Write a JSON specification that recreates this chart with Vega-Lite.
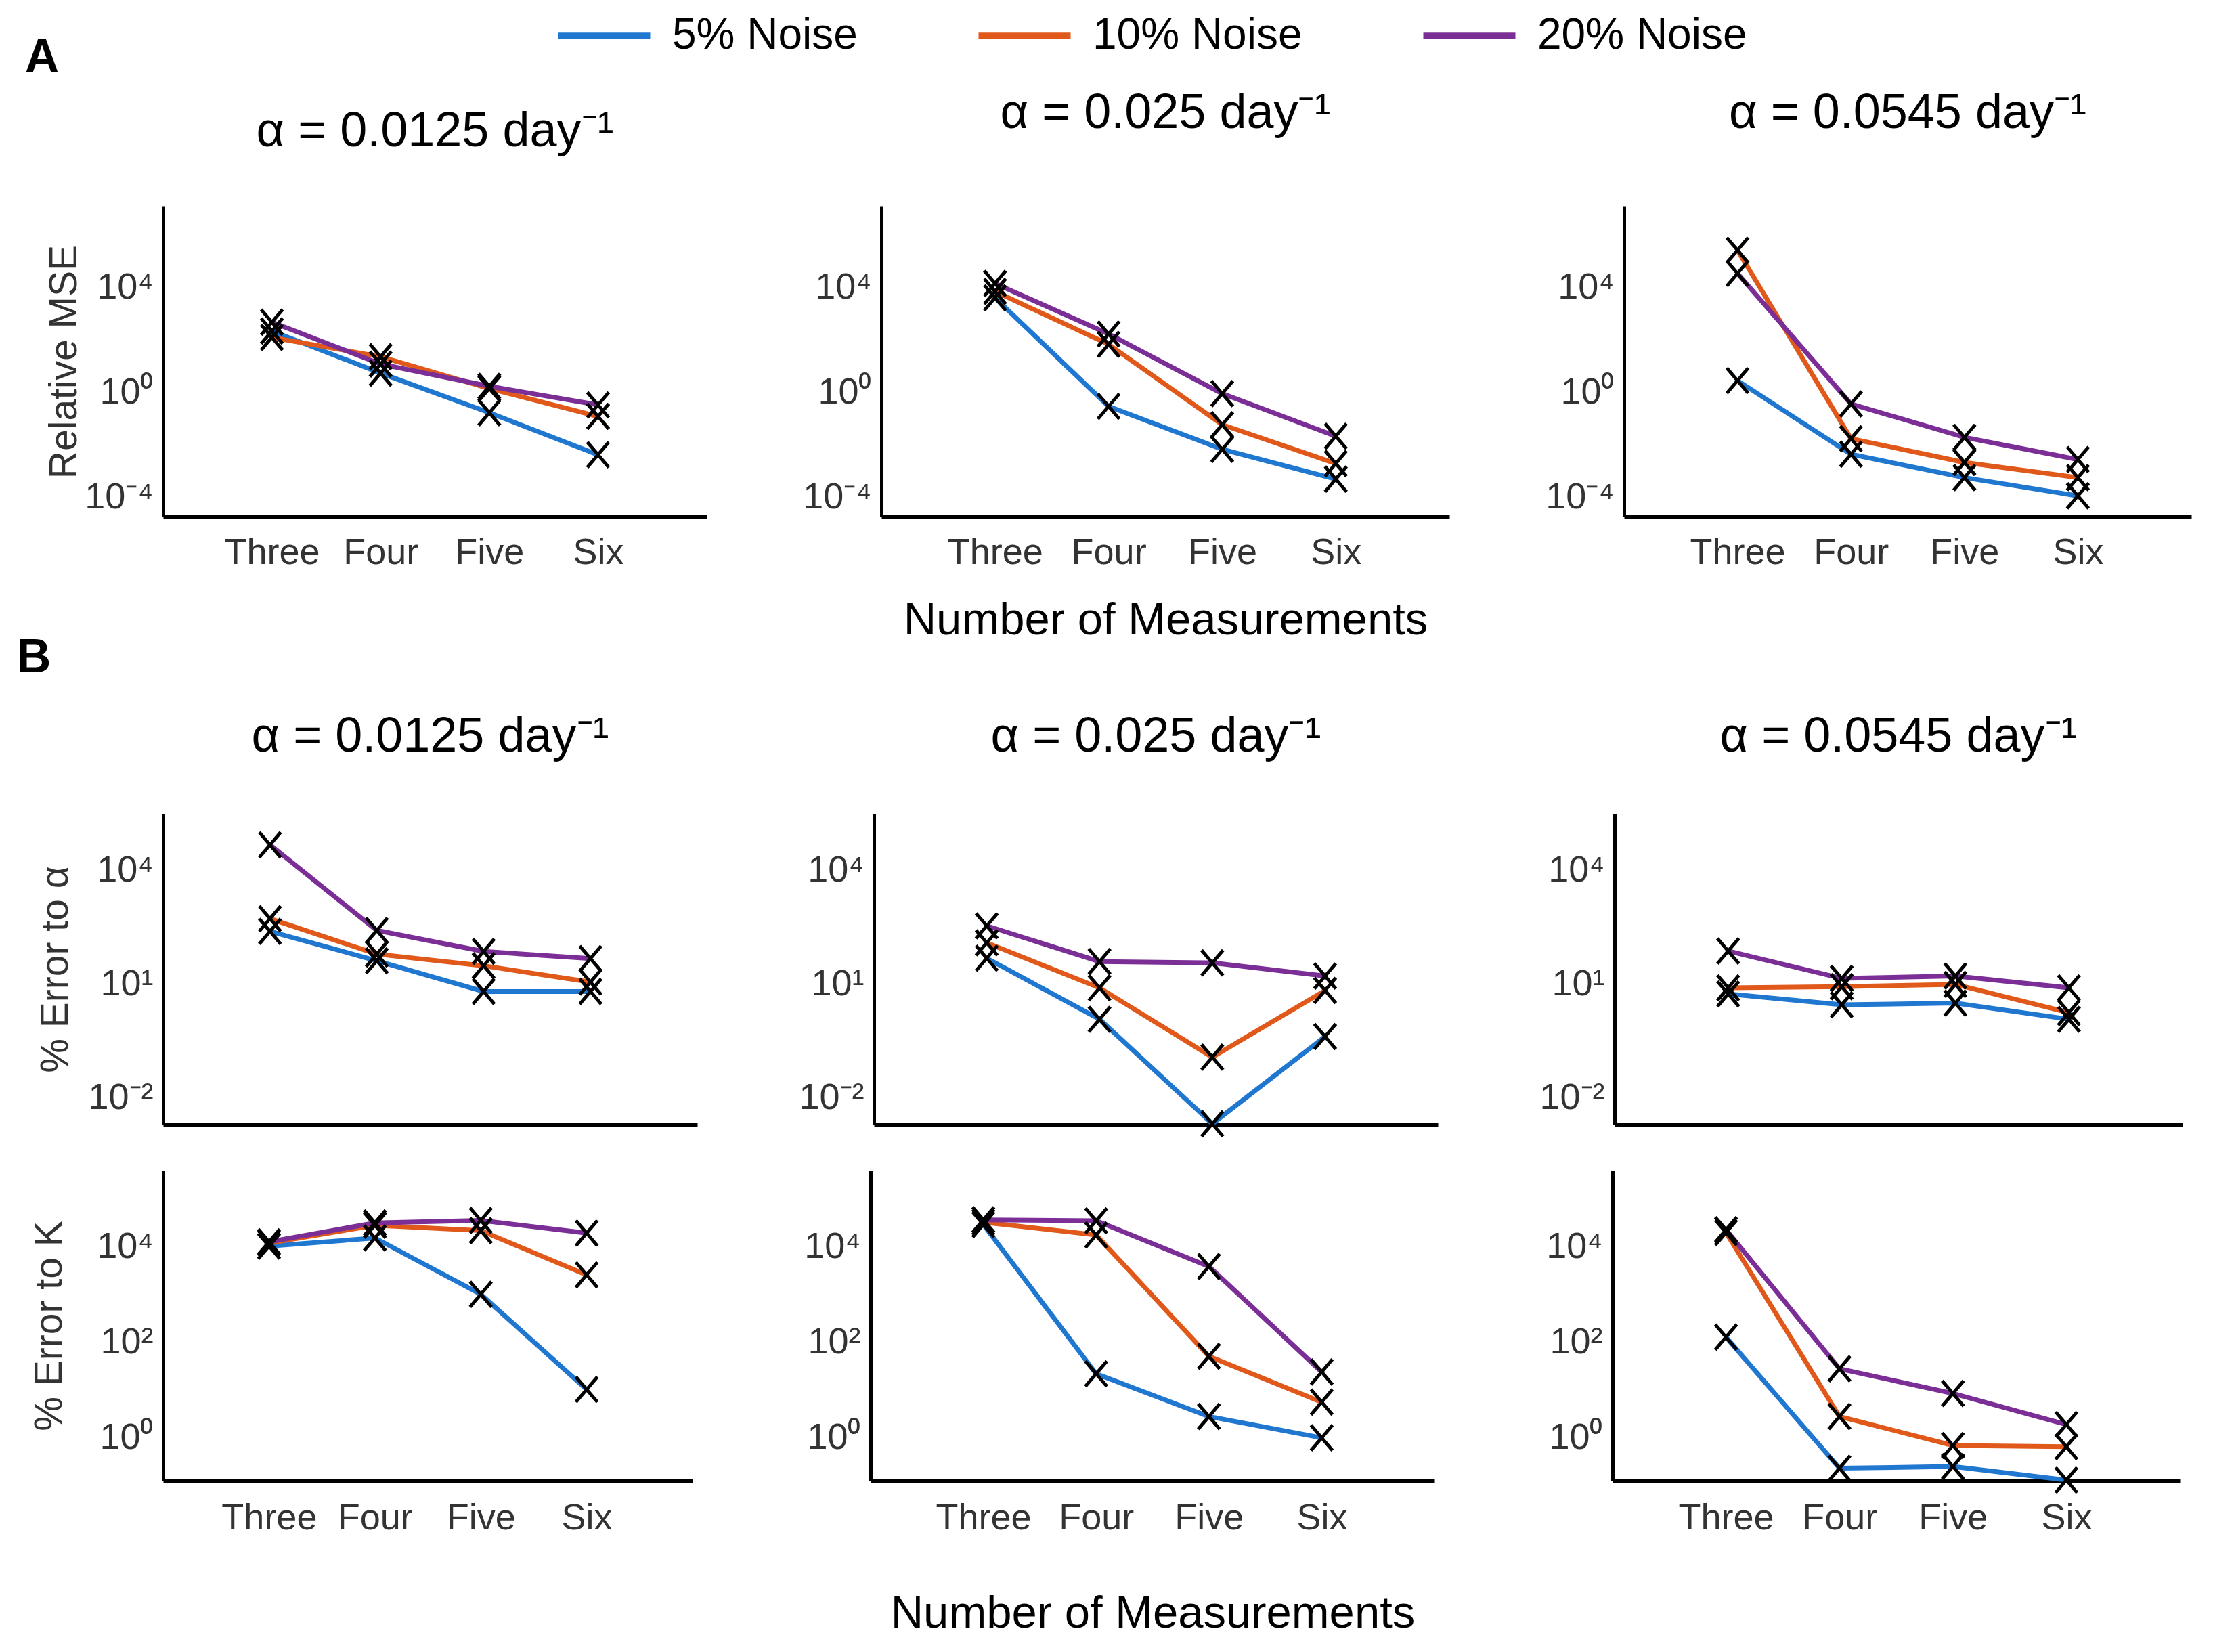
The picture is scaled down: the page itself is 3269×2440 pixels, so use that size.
{
  "$schema": "https://vega.github.io/schema/vega-lite/v6.json",
  "background": "white",
  "padding": {"left": 24, "top": 14, "right": 30, "bottom": 20},
  "datasets": {
    "d": [
      {"m":"MSE","r":"0.0125","noise":"5% Noise","n":3,"v":220},
      {"m":"MSE","r":"0.0125","noise":"5% Noise","n":4,"v":5.4},
      {"m":"MSE","r":"0.0125","noise":"5% Noise","n":5,"v":0.166},
      {"m":"MSE","r":"0.0125","noise":"5% Noise","n":6,"v":0.0041},
      {"m":"MSE","r":"0.0125","noise":"10% Noise","n":3,"v":125},
      {"m":"MSE","r":"0.0125","noise":"10% Noise","n":4,"v":23},
      {"m":"MSE","r":"0.0125","noise":"10% Noise","n":5,"v":1.4},
      {"m":"MSE","r":"0.0125","noise":"10% Noise","n":6,"v":0.12},
      {"m":"MSE","r":"0.0125","noise":"20% Noise","n":3,"v":480},
      {"m":"MSE","r":"0.0125","noise":"20% Noise","n":4,"v":12},
      {"m":"MSE","r":"0.0125","noise":"20% Noise","n":5,"v":1.7},
      {"m":"MSE","r":"0.0125","noise":"20% Noise","n":6,"v":0.33},
      {"m":"MSE","r":"0.025","noise":"5% Noise","n":3,"v":4100},
      {"m":"MSE","r":"0.025","noise":"5% Noise","n":4,"v":0.29},
      {"m":"MSE","r":"0.025","noise":"5% Noise","n":5,"v":0.0066},
      {"m":"MSE","r":"0.025","noise":"5% Noise","n":6,"v":0.00048},
      {"m":"MSE","r":"0.025","noise":"10% Noise","n":3,"v":7200},
      {"m":"MSE","r":"0.025","noise":"10% Noise","n":4,"v":68},
      {"m":"MSE","r":"0.025","noise":"10% Noise","n":5,"v":0.058},
      {"m":"MSE","r":"0.025","noise":"10% Noise","n":6,"v":0.0019},
      {"m":"MSE","r":"0.025","noise":"20% Noise","n":3,"v":14500},
      {"m":"MSE","r":"0.025","noise":"20% Noise","n":4,"v":170},
      {"m":"MSE","r":"0.025","noise":"20% Noise","n":5,"v":0.89},
      {"m":"MSE","r":"0.025","noise":"20% Noise","n":6,"v":0.021},
      {"m":"MSE","r":"0.0545","noise":"5% Noise","n":3,"v":2.8},
      {"m":"MSE","r":"0.0545","noise":"5% Noise","n":4,"v":0.0043},
      {"m":"MSE","r":"0.0545","noise":"5% Noise","n":5,"v":0.00055},
      {"m":"MSE","r":"0.0545","noise":"5% Noise","n":6,"v":0.00011},
      {"m":"MSE","r":"0.0545","noise":"10% Noise","n":3,"v":270000},
      {"m":"MSE","r":"0.0545","noise":"10% Noise","n":4,"v":0.017},
      {"m":"MSE","r":"0.0545","noise":"10% Noise","n":5,"v":0.0021},
      {"m":"MSE","r":"0.0545","noise":"10% Noise","n":6,"v":0.00055},
      {"m":"MSE","r":"0.0545","noise":"20% Noise","n":3,"v":35000},
      {"m":"MSE","r":"0.0545","noise":"20% Noise","n":4,"v":0.36},
      {"m":"MSE","r":"0.0545","noise":"20% Noise","n":5,"v":0.019},
      {"m":"MSE","r":"0.0545","noise":"20% Noise","n":6,"v":0.0027},
      {"m":"alpha","r":"0.0125","noise":"5% Noise","n":3,"v":250},
      {"m":"alpha","r":"0.0125","noise":"5% Noise","n":4,"v":42},
      {"m":"alpha","r":"0.0125","noise":"5% Noise","n":5,"v":6.5},
      {"m":"alpha","r":"0.0125","noise":"5% Noise","n":6,"v":6.5},
      {"m":"alpha","r":"0.0125","noise":"10% Noise","n":3,"v":540},
      {"m":"alpha","r":"0.0125","noise":"10% Noise","n":4,"v":63},
      {"m":"alpha","r":"0.0125","noise":"10% Noise","n":5,"v":31},
      {"m":"alpha","r":"0.0125","noise":"10% Noise","n":6,"v":11.5},
      {"m":"alpha","r":"0.0125","noise":"20% Noise","n":3,"v":48000},
      {"m":"alpha","r":"0.0125","noise":"20% Noise","n":4,"v":265},
      {"m":"alpha","r":"0.0125","noise":"20% Noise","n":5,"v":74},
      {"m":"alpha","r":"0.0125","noise":"20% Noise","n":6,"v":48},
      {"m":"alpha","r":"0.025","noise":"5% Noise","n":3,"v":49},
      {"m":"alpha","r":"0.025","noise":"5% Noise","n":4,"v":1.2},
      {"m":"alpha","r":"0.025","noise":"5% Noise","n":5,"v":0.0021},
      {"m":"alpha","r":"0.025","noise":"5% Noise","n":6,"v":0.42},
      {"m":"alpha","r":"0.025","noise":"10% Noise","n":3,"v":125},
      {"m":"alpha","r":"0.025","noise":"10% Noise","n":4,"v":8.1},
      {"m":"alpha","r":"0.025","noise":"10% Noise","n":5,"v":0.12},
      {"m":"alpha","r":"0.025","noise":"10% Noise","n":6,"v":6.9},
      {"m":"alpha","r":"0.025","noise":"20% Noise","n":3,"v":350},
      {"m":"alpha","r":"0.025","noise":"20% Noise","n":4,"v":40},
      {"m":"alpha","r":"0.025","noise":"20% Noise","n":5,"v":37},
      {"m":"alpha","r":"0.025","noise":"20% Noise","n":6,"v":16.6},
      {"m":"alpha","r":"0.0545","noise":"5% Noise","n":3,"v":5.6},
      {"m":"alpha","r":"0.0545","noise":"5% Noise","n":4,"v":2.9},
      {"m":"alpha","r":"0.0545","noise":"5% Noise","n":5,"v":3.2},
      {"m":"alpha","r":"0.0545","noise":"5% Noise","n":6,"v":1.2},
      {"m":"alpha","r":"0.0545","noise":"10% Noise","n":3,"v":8.1},
      {"m":"alpha","r":"0.0545","noise":"10% Noise","n":4,"v":8.7},
      {"m":"alpha","r":"0.0545","noise":"10% Noise","n":5,"v":10},
      {"m":"alpha","r":"0.0545","noise":"10% Noise","n":6,"v":1.8},
      {"m":"alpha","r":"0.0545","noise":"20% Noise","n":3,"v":76},
      {"m":"alpha","r":"0.0545","noise":"20% Noise","n":4,"v":14.4},
      {"m":"alpha","r":"0.0545","noise":"20% Noise","n":5,"v":16.6},
      {"m":"alpha","r":"0.0545","noise":"20% Noise","n":6,"v":8.1},
      {"m":"K","r":"0.0125","noise":"5% Noise","n":3,"v":10400},
      {"m":"K","r":"0.0125","noise":"5% Noise","n":4,"v":15400},
      {"m":"K","r":"0.0125","noise":"5% Noise","n":5,"v":1020},
      {"m":"K","r":"0.0125","noise":"5% Noise","n":6,"v":10.3},
      {"m":"K","r":"0.0125","noise":"10% Noise","n":3,"v":12000},
      {"m":"K","r":"0.0125","noise":"10% Noise","n":4,"v":28500},
      {"m":"K","r":"0.0125","noise":"10% Noise","n":5,"v":22000},
      {"m":"K","r":"0.0125","noise":"10% Noise","n":6,"v":2600},
      {"m":"K","r":"0.0125","noise":"20% Noise","n":3,"v":12800},
      {"m":"K","r":"0.0125","noise":"20% Noise","n":4,"v":32000},
      {"m":"K","r":"0.0125","noise":"20% Noise","n":5,"v":36000},
      {"m":"K","r":"0.0125","noise":"20% Noise","n":6,"v":19500},
      {"m":"K","r":"0.025","noise":"5% Noise","n":3,"v":29500},
      {"m":"K","r":"0.025","noise":"5% Noise","n":4,"v":22},
      {"m":"K","r":"0.025","noise":"5% Noise","n":5,"v":2.8},
      {"m":"K","r":"0.025","noise":"5% Noise","n":6,"v":1.0},
      {"m":"K","r":"0.025","noise":"10% Noise","n":3,"v":33000},
      {"m":"K","r":"0.025","noise":"10% Noise","n":4,"v":17800},
      {"m":"K","r":"0.025","noise":"10% Noise","n":5,"v":51},
      {"m":"K","r":"0.025","noise":"10% Noise","n":6,"v":5.6},
      {"m":"K","r":"0.025","noise":"20% Noise","n":3,"v":37000},
      {"m":"K","r":"0.025","noise":"20% Noise","n":4,"v":35500},
      {"m":"K","r":"0.025","noise":"20% Noise","n":5,"v":3900},
      {"m":"K","r":"0.025","noise":"20% Noise","n":6,"v":24},
      {"m":"K","r":"0.0545","noise":"5% Noise","n":3,"v":129},
      {"m":"K","r":"0.0545","noise":"5% Noise","n":4,"v":0.23},
      {"m":"K","r":"0.0545","noise":"5% Noise","n":5,"v":0.25},
      {"m":"K","r":"0.0545","noise":"5% Noise","n":6,"v":0.13},
      {"m":"K","r":"0.0545","noise":"10% Noise","n":3,"v":20000},
      {"m":"K","r":"0.0545","noise":"10% Noise","n":4,"v":2.8},
      {"m":"K","r":"0.0545","noise":"10% Noise","n":5,"v":0.69},
      {"m":"K","r":"0.0545","noise":"10% Noise","n":6,"v":0.65},
      {"m":"K","r":"0.0545","noise":"20% Noise","n":3,"v":23000},
      {"m":"K","r":"0.0545","noise":"20% Noise","n":4,"v":28},
      {"m":"K","r":"0.0545","noise":"20% Noise","n":5,"v":8.5},
      {"m":"K","r":"0.0545","noise":"20% Noise","n":6,"v":1.9}
    ]
  },
  "data": {"name": "d"},
  "spacing": -12,
  "vconcat": [
    {
      "title": {"text": "A", "anchor": "start", "fontWeight": "bold", "fontSize": 70, "color": "black", "offset": 9, "dx": -30},
      "bounds": "flush",
      "spacing": 258,
      "hconcat": [
        {
          "width": 803, "height": 458,
          "title": {"text": "α = 0.0125 day⁻¹", "offset": 17, "baseline": "alphabetic"},
          "transform": [{"filter": "datum.m == 'MSE' && datum.r == '0.0125'"}],
          "encoding": {
            "x": {"field": "n", "type": "quantitative", "scale": {"domain": [2, 7], "nice": false}, "axis": {"values": [3,4,5,6], "labelExpr": "['','','','Three','Four','Five','Six'][datum.value]", "title": null, "labelPadding": 26}},
            "y": {"field": "v", "type": "quantitative", "scale": {"type": "log", "domain": [1.78e-5, 1.26e7], "nice": false}, "axis": {"values": [0.0001, 1, 10000], "labelExpr": "'10' + (datum.value < 1 ? '⁻' : '') + ['⁰','¹','²','³','⁴'][abs(round(log(datum.value)/LN10))]", "title": "Relative MSE", "labelPadding": 15, "titlePadding": 0}},
            "color": {"field": "noise", "type": "nominal", "scale": {"domain": ["5% Noise", "10% Noise", "20% Noise"], "range": ["#1f77d0", "#e0591b", "#7a2e96"]}, "legend": {"orient": "none", "legendX": 613, "legendY": -291, "direction": "horizontal", "title": null}}
          },
          "layer": [
            {"mark": {"type": "line", "strokeWidth": 7}},
            {"mark": {"type": "point", "shape": "M -0.85 -1 L 0.85 1 M -0.85 1 L 0.85 -1", "filled": false, "size": 1400, "strokeWidth": 5, "opacity": 1}, "encoding": {"color": {"value": "black"}}}
          ]
        },
        {
          "width": 839, "height": 458,
          "title": {"text": "α = 0.025 day⁻¹", "offset": 44, "baseline": "alphabetic"},
          "transform": [{"filter": "datum.m == 'MSE' && datum.r == '0.025'"}],
          "encoding": {
            "x": {"field": "n", "type": "quantitative", "scale": {"domain": [2, 7], "nice": false}, "axis": {"values": [3,4,5,6], "labelExpr": "['','','','Three','Four','Five','Six'][datum.value]", "title": "Number of Measurements", "titleFontSize": 67, "titleColor": "black", "titlePadding": 40, "labelPadding": 26}},
            "y": {"field": "v", "type": "quantitative", "scale": {"type": "log", "domain": [1.78e-5, 1.26e7], "nice": false}, "axis": {"values": [0.0001, 1, 10000], "labelExpr": "'10' + (datum.value < 1 ? '⁻' : '') + ['⁰','¹','²','³','⁴'][abs(round(log(datum.value)/LN10))]", "title": null, "labelPadding": 15}},
            "color": {"field": "noise", "type": "nominal", "scale": {"domain": ["5% Noise", "10% Noise", "20% Noise"], "range": ["#1f77d0", "#e0591b", "#7a2e96"]}, "legend": {"orient": "none", "legendX": 613, "legendY": -291, "direction": "horizontal", "title": null}}
          },
          "layer": [
            {"mark": {"type": "line", "strokeWidth": 7}},
            {"mark": {"type": "point", "shape": "M -0.85 -1 L 0.85 1 M -0.85 1 L 0.85 -1", "filled": false, "size": 1400, "strokeWidth": 5, "opacity": 1}, "encoding": {"color": {"value": "black"}}}
          ]
        },
        {
          "width": 838, "height": 458,
          "title": {"text": "α = 0.0545 day⁻¹", "offset": 44, "baseline": "alphabetic"},
          "transform": [{"filter": "datum.m == 'MSE' && datum.r == '0.0545'"}],
          "encoding": {
            "x": {"field": "n", "type": "quantitative", "scale": {"domain": [2, 7], "nice": false}, "axis": {"values": [3,4,5,6], "labelExpr": "['','','','Three','Four','Five','Six'][datum.value]", "title": null, "labelPadding": 26}},
            "y": {"field": "v", "type": "quantitative", "scale": {"type": "log", "domain": [1.78e-5, 1.26e7], "nice": false}, "axis": {"values": [0.0001, 1, 10000], "labelExpr": "'10' + (datum.value < 1 ? '⁻' : '') + ['⁰','¹','²','³','⁴'][abs(round(log(datum.value)/LN10))]", "title": null, "labelPadding": 15}},
            "color": {"field": "noise", "type": "nominal", "scale": {"domain": ["5% Noise", "10% Noise", "20% Noise"], "range": ["#1f77d0", "#e0591b", "#7a2e96"]}, "legend": {"orient": "none", "legendX": 613, "legendY": -291, "direction": "horizontal", "title": null}}
          },
          "layer": [
            {"mark": {"type": "line", "strokeWidth": 7}},
            {"mark": {"type": "point", "shape": "M -0.85 -1 L 0.85 1 M -0.85 1 L 0.85 -1", "filled": false, "size": 1400, "strokeWidth": 5, "opacity": 1}, "encoding": {"color": {"value": "black"}}}
          ]
        }
      ]
    },
    {
      "title": {"text": "B", "anchor": "start", "fontWeight": "bold", "fontSize": 70, "color": "black", "offset": 44, "dx": -20},
      "spacing": 40,
      "vconcat": [
        {
          "bounds": "flush",
          "spacing": 261,
          "hconcat": [
            {
              "width": 789, "height": 459,
              "title": {"text": "α = 0.0125 day⁻¹", "offset": 20, "baseline": "alphabetic"},
              "transform": [{"filter": "datum.m == 'alpha' && datum.r == '0.0125'"}],
              "encoding": {
                "x": {"field": "n", "type": "quantitative", "scale": {"domain": [2, 7], "nice": false}, "axis": {"values": [3,4,5,6], "labels": false, "title": null}},
                "y": {"field": "v", "type": "quantitative", "scale": {"type": "log", "domain": [0.002, 316000], "nice": false}, "axis": {"values": [0.01, 10, 10000], "labelExpr": "'10' + (datum.value < 1 ? '⁻' : '') + ['⁰','¹','²','³','⁴'][abs(round(log(datum.value)/LN10))]", "title": "% Error to α", "labelPadding": 15, "titlePadding": 18}},
                "color": {"field": "noise", "type": "nominal", "scale": {"domain": ["5% Noise", "10% Noise", "20% Noise"], "range": ["#1f77d0", "#e0591b", "#7a2e96"]}, "legend": {"orient": "none", "legendX": 613, "legendY": -291, "direction": "horizontal", "title": null}}
              },
              "layer": [
                {"mark": {"type": "line", "strokeWidth": 7}},
                {"mark": {"type": "point", "shape": "M -0.85 -1 L 0.85 1 M -0.85 1 L 0.85 -1", "filled": false, "size": 1400, "strokeWidth": 5, "opacity": 1}, "encoding": {"color": {"value": "black"}}}
              ]
            },
            {
              "width": 833, "height": 459,
              "title": {"text": "α = 0.025 day⁻¹", "offset": 20, "baseline": "alphabetic"},
              "transform": [{"filter": "datum.m == 'alpha' && datum.r == '0.025'"}],
              "encoding": {
                "x": {"field": "n", "type": "quantitative", "scale": {"domain": [2, 7], "nice": false}, "axis": {"values": [3,4,5,6], "labels": false, "title": null}},
                "y": {"field": "v", "type": "quantitative", "scale": {"type": "log", "domain": [0.002, 316000], "nice": false}, "axis": {"values": [0.01, 10, 10000], "labelExpr": "'10' + (datum.value < 1 ? '⁻' : '') + ['⁰','¹','²','³','⁴'][abs(round(log(datum.value)/LN10))]", "title": null, "labelPadding": 15}},
                "color": {"field": "noise", "type": "nominal", "scale": {"domain": ["5% Noise", "10% Noise", "20% Noise"], "range": ["#1f77d0", "#e0591b", "#7a2e96"]}, "legend": {"orient": "none", "legendX": 613, "legendY": -291, "direction": "horizontal", "title": null}}
              },
              "layer": [
                {"mark": {"type": "line", "strokeWidth": 7}},
                {"mark": {"type": "point", "shape": "M -0.85 -1 L 0.85 1 M -0.85 1 L 0.85 -1", "filled": false, "size": 1400, "strokeWidth": 5, "opacity": 1}, "encoding": {"color": {"value": "black"}}}
              ]
            },
            {
              "width": 839, "height": 459,
              "title": {"text": "α = 0.0545 day⁻¹", "offset": 20, "baseline": "alphabetic"},
              "transform": [{"filter": "datum.m == 'alpha' && datum.r == '0.0545'"}],
              "encoding": {
                "x": {"field": "n", "type": "quantitative", "scale": {"domain": [2, 7], "nice": false}, "axis": {"values": [3,4,5,6], "labels": false, "title": null}},
                "y": {"field": "v", "type": "quantitative", "scale": {"type": "log", "domain": [0.002, 316000], "nice": false}, "axis": {"values": [0.01, 10, 10000], "labelExpr": "'10' + (datum.value < 1 ? '⁻' : '') + ['⁰','¹','²','³','⁴'][abs(round(log(datum.value)/LN10))]", "title": null, "labelPadding": 15}},
                "color": {"field": "noise", "type": "nominal", "scale": {"domain": ["5% Noise", "10% Noise", "20% Noise"], "range": ["#1f77d0", "#e0591b", "#7a2e96"]}, "legend": {"orient": "none", "legendX": 613, "legendY": -291, "direction": "horizontal", "title": null}}
              },
              "layer": [
                {"mark": {"type": "line", "strokeWidth": 7}},
                {"mark": {"type": "point", "shape": "M -0.85 -1 L 0.85 1 M -0.85 1 L 0.85 -1", "filled": false, "size": 1400, "strokeWidth": 5, "opacity": 1}, "encoding": {"color": {"value": "black"}}}
              ]
            }
          ]
        },
        {
          "bounds": "flush",
          "spacing": 263,
          "hconcat": [
            {
              "width": 782, "height": 458,
              "transform": [{"filter": "datum.m == 'K' && datum.r == '0.0125'"}],
              "encoding": {
                "x": {"field": "n", "type": "quantitative", "scale": {"domain": [2, 7], "nice": false}, "axis": {"values": [3,4,5,6], "labelExpr": "['','','','Three','Four','Five','Six'][datum.value]", "title": null, "labelPadding": 28}},
                "y": {"field": "v", "type": "quantitative", "scale": {"type": "log", "domain": [0.126, 398000], "nice": false}, "axis": {"values": [1, 100, 10000], "labelExpr": "'10' + (datum.value < 1 ? '⁻' : '') + ['⁰','¹','²','³','⁴'][abs(round(log(datum.value)/LN10))]", "title": "% Error to K", "labelPadding": 15, "titlePadding": 40}},
                "color": {"field": "noise", "type": "nominal", "scale": {"domain": ["5% Noise", "10% Noise", "20% Noise"], "range": ["#1f77d0", "#e0591b", "#7a2e96"]}, "legend": {"orient": "none", "legendX": 613, "legendY": -291, "direction": "horizontal", "title": null}}
              },
              "layer": [
                {"mark": {"type": "line", "strokeWidth": 7}},
                {"mark": {"type": "point", "shape": "M -0.85 -1 L 0.85 1 M -0.85 1 L 0.85 -1", "filled": false, "size": 1400, "strokeWidth": 5, "opacity": 1}, "encoding": {"color": {"value": "black"}}}
              ]
            },
            {
              "width": 833, "height": 458,
              "transform": [{"filter": "datum.m == 'K' && datum.r == '0.025'"}],
              "encoding": {
                "x": {"field": "n", "type": "quantitative", "scale": {"domain": [2, 7], "nice": false}, "axis": {"values": [3,4,5,6], "labelExpr": "['','','','Three','Four','Five','Six'][datum.value]", "title": "Number of Measurements", "titleFontSize": 67, "titleColor": "black", "titlePadding": 81, "labelPadding": 28}},
                "y": {"field": "v", "type": "quantitative", "scale": {"type": "log", "domain": [0.126, 398000], "nice": false}, "axis": {"values": [1, 100, 10000], "labelExpr": "'10' + (datum.value < 1 ? '⁻' : '') + ['⁰','¹','²','³','⁴'][abs(round(log(datum.value)/LN10))]", "title": null, "labelPadding": 15}},
                "color": {"field": "noise", "type": "nominal", "scale": {"domain": ["5% Noise", "10% Noise", "20% Noise"], "range": ["#1f77d0", "#e0591b", "#7a2e96"]}, "legend": {"orient": "none", "legendX": 613, "legendY": -291, "direction": "horizontal", "title": null}}
              },
              "layer": [
                {"mark": {"type": "line", "strokeWidth": 7}},
                {"mark": {"type": "point", "shape": "M -0.85 -1 L 0.85 1 M -0.85 1 L 0.85 -1", "filled": false, "size": 1400, "strokeWidth": 5, "opacity": 1}, "encoding": {"color": {"value": "black"}}}
              ]
            },
            {
              "width": 838, "height": 458,
              "transform": [{"filter": "datum.m == 'K' && datum.r == '0.0545'"}],
              "encoding": {
                "x": {"field": "n", "type": "quantitative", "scale": {"domain": [2, 7], "nice": false}, "axis": {"values": [3,4,5,6], "labelExpr": "['','','','Three','Four','Five','Six'][datum.value]", "title": null, "labelPadding": 28}},
                "y": {"field": "v", "type": "quantitative", "scale": {"type": "log", "domain": [0.126, 398000], "nice": false}, "axis": {"values": [1, 100, 10000], "labelExpr": "'10' + (datum.value < 1 ? '⁻' : '') + ['⁰','¹','²','³','⁴'][abs(round(log(datum.value)/LN10))]", "title": null, "labelPadding": 15}},
                "color": {"field": "noise", "type": "nominal", "scale": {"domain": ["5% Noise", "10% Noise", "20% Noise"], "range": ["#1f77d0", "#e0591b", "#7a2e96"]}, "legend": {"orient": "none", "legendX": 613, "legendY": -291, "direction": "horizontal", "title": null}}
              },
              "layer": [
                {"mark": {"type": "line", "strokeWidth": 7}},
                {"mark": {"type": "point", "shape": "M -0.85 -1 L 0.85 1 M -0.85 1 L 0.85 -1", "filled": false, "size": 1400, "strokeWidth": 5, "opacity": 1}, "encoding": {"color": {"value": "black"}}}
              ]
            }
          ]
        }
      ]
    }
  ],
  "config": {
    "view": {"stroke": null},
    "font": "Liberation Sans",
    "axis": {"grid": false, "ticks": false, "domainColor": "black", "domainWidth": 5, "labelFont": "Liberation Sans", "labelFontSize": 54, "labelColor": "#333333", "titleFont": "Liberation Sans", "titleFontSize": 57, "titleFontWeight": "normal", "titleColor": "#333333"},
    "title": {"font": "Liberation Sans", "fontSize": 72, "fontWeight": "normal", "color": "black"},
    "legend": {"symbolType": "M -2 0 L 2 0", "symbolSize": 4624, "symbolStrokeWidth": 9, "labelFont": "Liberation Sans", "labelFontSize": 64, "labelColor": "black", "labelOffset": 62, "columnPadding": 160, "labelLimit": 0, "padding": 0}
  }
}
